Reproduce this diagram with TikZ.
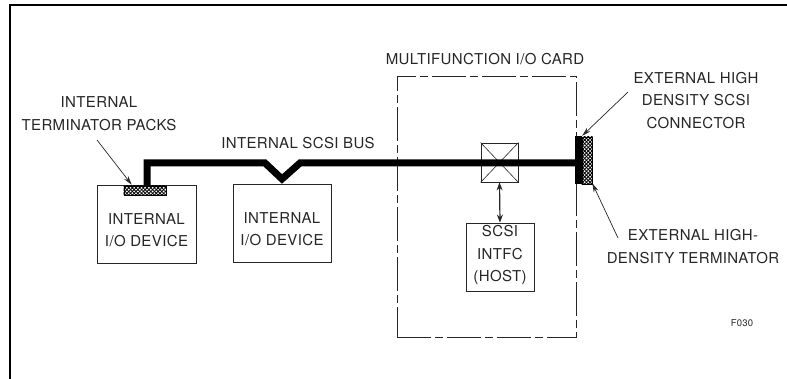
\documentclass[tikz,border=0pt]{standalone}
\usepackage{fontspec}
\setmainfont[LetterSpace=2.5]{TeX Gyre Heros}
\usetikzlibrary{arrows.meta,patterns.meta,calc}
\definecolor{ink}{HTML}{262626}
\begin{document}
\begin{tikzpicture}[x=1pt,y=-1pt,
  txt/.style={text=ink, align=center, inner sep=0pt, font=\fontsize{15}{22.5}\selectfont},
  devbox/.style={draw=ink, line width=0.8pt, inner sep=0pt},
  cardbox/.style={draw=ink, line width=0.8pt, inner sep=0pt, dash pattern=on 34pt off 4pt on 8pt off 4pt},
  hatchbox/.style={draw=black, line width=0.6pt, fill=white, inner sep=0pt},
  bus/.style={line width=7pt, black, line join=miter},
  arr/.style={ink, line width=0.7pt, -{Stealth[length=9pt,width=5pt]}},
  darr/.style={ink, line width=1.2pt, {Stealth[length=8pt,width=6pt]}-{Stealth[length=8pt,width=6pt]}}]
\useasboundingbox (0,0) rectangle (787,379);
% frame
\draw[line width=1.6pt] (10,379) -- (10,5) -- (787,5);

% devices
\node[devbox, minimum width=99pt, minimum height=78pt] (dev1) at (146.5,224) {};
\node[txt] (dev1t) at (146.5,230) {INTERNAL\\I/O DEVICE};
\node[devbox, minimum width=98pt, minimum height=78pt] (dev2) at (282,223) {};
\node[txt] (dev2t) at (282,229) {INTERNAL\\I/O DEVICE};

% card
\node[cardbox, minimum width=179pt, minimum height=261pt] (card) at (486.5,206.5) {};
\node[txt] (cardt) at (485,59) {MULTIFUNCTION I/O CARD};

% crossed box on card
\node[devbox, minimum width=37pt, minimum height=39pt] (xbox) at (499.5,162.5) {};
\draw[ink, line width=0.6pt] (xbox.north west) -- (xbox.south east) (xbox.north east) -- (xbox.south west);

% SCSI interface
\node[devbox, minimum width=68pt, minimum height=68pt] (intfc) at (500,257) {};
\node[txt] (intfct) at (500,255) {SCSI\\INTFC\\(HOST)};
\draw[darr] (xbox.south) -- (intfc.north);

% internal terminator pack
\node[hatchbox, minimum width=42pt, minimum height=9pt] (term1) at (145,190.5) {};
\path[pattern={Lines[angle=45,distance=2.6pt,line width=0.9pt]}] (term1.north west) rectangle (term1.south east);
\path[pattern={Lines[angle=-45,distance=2.6pt,line width=0.9pt]}] (term1.north west) rectangle (term1.south east);

% external connector and terminator
\node[fill=black, inner sep=0pt, minimum width=7pt, minimum height=48pt] (conn) at (578.5,160) {};
\node[hatchbox, minimum width=10pt, minimum height=47pt] (term2) at (587,160.5) {};
\path[pattern={Lines[angle=45,distance=2.6pt,line width=0.9pt]}] (term2.north west) rectangle (term2.south east);
\path[pattern={Lines[angle=-45,distance=2.6pt,line width=0.9pt]}] (term2.north west) rectangle (term2.south east);

% bus
\coordinate (b1) at (147,163);
\coordinate (b2) at (265,163);
\coordinate (dip) at (282,179);
\coordinate (b3) at (300,163);
\draw[bus] (term1.north -| b1) -- (b1) -- (b2) -- (dip) -- (b3) -- (b3 -| conn.west);
\node[txt] (buslbl) at (298,143) {INTERNAL SCSI BUS};

% labels and arrows
\node[txt] (termlbl) at (99,113.5) {INTERNAL\\TERMINATOR PACKS};
\coordinate (a1) at (97,140);
\draw[arr] (a1) -- ([xshift=8pt,yshift=1pt]term1.north west);

\node[txt] (connlbl) at (696,100.5) {EXTERNAL HIGH\\DENSITY SCSI\\CONNECTOR};
\coordinate (a2) at (628,92);
\draw[arr] (a2) -- (conn.north east);

\node[txt] (term2lbl) at (693,246.5) {EXTERNAL HIGH-\\DENSITY TERMINATOR};
\coordinate (a3) at (618,238);
\draw[arr] (a3) -- ([yshift=1pt]term2.south east);

\node[txt, font=\fontsize{9.5}{11}\selectfont] (fig) at (742,323) {F030};
\end{tikzpicture}
\end{document}
